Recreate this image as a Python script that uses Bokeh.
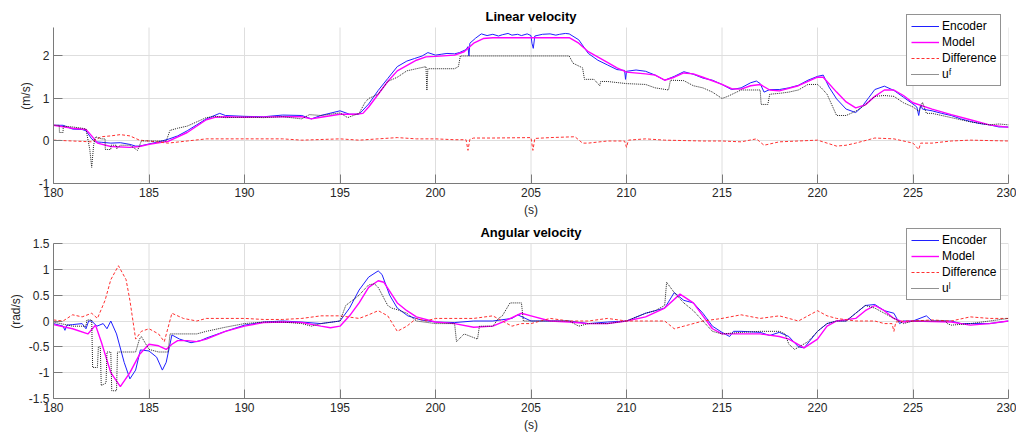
from bokeh.plotting import figure
from bokeh.layouts import column
from bokeh.models import Range1d, FixedTicker, CustomJSTickFormatter, Legend, LegendItem, Label
from bokeh.embed import file_html
from bokeh.resources import INLINE

# ---------------- Linear velocity data ----------------
lin_enc_t = [180, 180.5, 181, 181.5, 181.7, 182.0, 182.2, 182.5, 183, 183.5, 184, 184.3, 184.5, 185,
             185.5, 186, 186.5, 187, 187.5, 188, 188.7, 189, 190, 191, 192, 193, 193.5, 194, 195,
             195.5, 196, 196.5, 197, 197.5, 198, 198.5, 198.9, 199.3, 199.6, 200, 200.3, 200.6, 201,
             201.25, 201.6, 201.7, 201.75, 201.8, 202.1, 202.4, 202.7, 203, 203.3, 203.5, 203.8, 204,
             204.3, 204.5, 204.8, 205, 205.05, 205.12, 205.2, 205.6, 206, 206.3, 206.5, 206.8, 207,
             207.5, 208, 208.5, 209, 209.5, 209.9, 209.95, 210.0, 210.5, 211, 211.5, 212, 212.5, 213,
             213.5, 214, 214.5, 215, 215.5, 216, 216.5, 216.8, 217.0, 217.2, 217.5, 218, 218.5, 219,
             219.5, 220, 220.3, 220.6, 221, 221.5, 222, 222.3, 222.7, 223, 223.5, 224, 224.5, 225,
             225.2, 225.3, 225.4, 225.5, 226, 226.5, 227, 227.5, 228, 228.5, 229, 229.5, 230]
lin_enc_v = [0.37, 0.37, 0.28, 0.27, 0.24, 0.05, -0.02, -0.03, -0.05, -0.04, -0.08, -0.12, -0.12, -0.07,
             -0.02, 0.04, 0.12, 0.24, 0.38, 0.52, 0.65, 0.6, 0.58, 0.57, 0.61, 0.6, 0.52, 0.6, 0.71,
             0.63, 0.63, 0.87, 1.19, 1.47, 1.75, 1.88, 1.94, 2.0, 2.08, 2.02, 2.04, 2.06, 2.05,
             2.08, 2.15, 2.22, 2.0, 2.3, 2.42, 2.52, 2.48, 2.51, 2.47, 2.5, 2.53, 2.49,
             2.51, 2.48, 2.52, 2.48, 2.3, 2.18, 2.47, 2.51, 2.52, 2.49, 2.51, 2.53, 2.52,
             2.38, 2.06, 1.9, 1.79, 1.68, 1.66, 1.45, 1.64, 1.67, 1.64, 1.55, 1.43, 1.52, 1.63,
             1.57, 1.48, 1.43, 1.33, 1.21, 1.25, 1.37, 1.41, 1.35, 1.15, 1.21, 1.21, 1.25, 1.31,
             1.43, 1.52, 1.55, 1.27, 0.99, 0.75, 0.67, 0.79, 1.03, 1.21, 1.29, 1.19, 1.03, 0.87,
             0.8, 0.6, 0.85, 0.75, 0.71, 0.65, 0.6, 0.52, 0.46, 0.41, 0.38, 0.33, 0.33]

lin_mod_t = [180, 181, 181.7, 182, 182.3, 183, 184, 184.5, 185, 185.5, 186, 187, 188, 188.5, 189, 190,
             192, 193, 193.5, 194, 195, 195.8, 196.2, 196.5, 197, 197.5, 198, 199, 199.5, 200, 201,
             201.5, 202, 202.5, 203, 207, 207.5, 208, 209, 209.5, 210, 211, 211.5, 212, 212.5, 213,
             213.5, 214, 215, 215.5, 216, 216.5, 217, 217.5, 218, 219, 220, 220.3, 221, 221.5, 222,
             222.5, 223, 223.5, 224, 224.5, 225, 226, 227, 228, 229, 230]
lin_mod_v = [0.37, 0.3, 0.27, 0.12, -0.05, -0.13, -0.15, -0.13, -0.08, -0.04, -0.01, 0.2, 0.5, 0.56, 0.57, 0.56,
             0.57, 0.57, 0.52, 0.56, 0.63, 0.63, 0.65, 0.8, 1.1, 1.4, 1.65, 1.9, 1.98, 1.99, 2.02,
             2.1, 2.3, 2.41, 2.43, 2.43, 2.3, 2.1, 1.85, 1.72, 1.62, 1.58, 1.55, 1.43, 1.5, 1.6,
             1.58, 1.5, 1.33, 1.23, 1.22, 1.3, 1.33, 1.2, 1.18, 1.3, 1.5, 1.5, 1.15, 0.92, 0.78,
             0.85, 1.05, 1.2, 1.2, 1.07, 0.9, 0.75, 0.62, 0.5, 0.38, 0.32]

lin_dif_t = [180, 181, 182, 182.5, 183, 183.5, 184, 184.5, 185, 186, 187, 188, 190, 192, 193, 195, 196,
             197, 198, 199, 200, 201, 201.6, 201.7, 201.8, 202, 203, 205.0, 205.1, 205.2, 206, 207.3,
             207.7, 208, 209, 209.9, 210.0, 210.1, 211, 212, 214, 215, 216, 216.8, 217.2, 218, 219,
             220, 221, 221.5, 222, 223, 224, 225, 225.3, 225.4, 226, 227, 228, 230]
lin_dif_v = [0.02, 0.0, -0.02, 0.1, 0.12, 0.15, 0.12, 0.02, 0.0, -0.05, 0.0, 0.05, 0.05, 0.05, 0.02, 0.05, 0.02,
             0.05, 0.08, 0.05, 0.05, 0.03, 0.03, -0.22, 0.04, 0.07, 0.07, 0.08, -0.22, 0.06, 0.08, 0.1,
             -0.05, -0.05, 0.0, 0.0, -0.15, 0.02, 0.05, 0.02, 0.0, 0.0, -0.02, 0.05, -0.1, -0.02, 0.0,
             0.02, -0.12, -0.1, -0.05, 0.07, 0.05, -0.05, -0.2, -0.05, -0.05, 0.0, 0.02, 0.0]

lin_uf_t = [180, 180.3, 180.31, 180.5, 180.51, 181, 181.5, 181.7, 181.9, 182.0, 182.1, 182.2, 182.5, 182.7,
            182.71, 183, 183.01, 183.3, 183.31, 183.5, 184, 184.4, 184.6, 185, 185.9, 186.1, 186.5, 187,
            187.5, 188, 188.5, 189, 190, 191, 192, 193, 193.4, 194, 195, 195.4, 196, 196.3, 196.5, 197,
            197.5, 198, 198.5, 199, 199.5, 199.55, 199.6, 199.7, 200, 201, 201.2, 201.3, 207.0, 207.2,
            207.7, 207.8, 208.3, 208.6, 208.65, 209, 210, 211, 211.5, 212.2, 212.3, 213, 213.5, 214, 214.5,
            215, 215.3, 216, 216.5, 217.0, 217.05, 217.4, 217.5, 218, 218.5, 219, 219.5, 220, 220.2,
            220.5, 220.8, 221, 221.5, 222, 222.5, 223, 223.5, 224, 224.5, 225, 225.3, 225.5, 225.7, 226,
            227, 228, 229, 229.5, 230]
lin_uf_v = [0.37, 0.37, 0.2, 0.2, 0.35, 0.33, 0.3, 0.28, -0.2, -0.62, -0.1, 0.1, 0.05, 0.05,
            -0.2, -0.2, -0.1, -0.1, -0.18, -0.1, -0.1, -0.22, 0.0, 0.0, 0.0, 0.25, 0.3, 0.35,
            0.45, 0.55, 0.58, 0.55, 0.56, 0.55, 0.57, 0.52, 0.62, 0.6, 0.66, 0.55, 0.65, 0.9, 1.0, 1.1,
            1.4, 1.5, 1.65, 1.7, 1.75, 1.19, 1.7, 1.7, 1.7, 1.7, 1.75, 2.0, 2.0, 1.83,
            1.72, 1.45, 1.45, 1.3, 1.4, 1.4, 1.35, 1.33, 1.25, 1.2, 1.43, 1.42, 1.3, 1.25, 1.15,
            1.0, 1.05, 1.2, 1.2, 1.2, 0.86, 0.86, 1.1, 1.12, 1.15, 1.2, 1.33, 1.33, 1.25,
            1.1, 0.8, 0.6, 0.6, 0.7, 0.85, 1.05, 1.07, 1.05, 0.9, 0.8, 0.7, 0.91, 0.65, 0.65,
            0.55, 0.45, 0.38, 0.4, 0.38]

# ---------------- Angular velocity data ----------------
ang_enc_t = [180, 180.5, 180.6, 180.7, 181, 181.5, 181.7, 181.84, 182.0, 182.27, 182.6, 182.8, 183.0,
             183.3, 183.7, 184.0, 184.3, 184.55, 185, 185.4, 185.7, 185.9, 186.2, 186.6, 187.2, 187.7,
             188, 189, 190, 191, 192, 193, 194, 195, 195.5, 196, 196.5, 197, 197.2, 197.6, 198, 198.55,
             199.25, 200, 201, 202, 203, 204, 204.3, 205, 206, 207, 208, 209, 210, 211, 211.5, 212,
             212.5, 213, 213.5, 214, 214.5, 215, 215.4, 215.6, 216, 217, 217.5, 218, 218.5, 219, 219.3,
             220, 220.5, 221, 221.5, 222, 222.5, 223, 223.5, 224, 224.3, 224.5, 225, 225.7, 226, 227,
             227.5, 228, 229, 230]
ang_enc_v = [-0.05, -0.1, -0.18, -0.08, -0.07, -0.05, -0.15, 0.0, 0.0, -0.1, -0.05, -0.15, 0.0,
             -0.25, -0.8, -1.12, -0.95, -0.56, -0.58, -0.7, -0.95, -0.8, -0.27, -0.35, -0.42, -0.38,
             -0.33, -0.2, -0.08, -0.02, 0.0, -0.02, -0.05, 0.0, 0.25, 0.6, 0.85, 0.97, 0.9, 0.5, 0.25, 0.1,
             0.02, -0.02, -0.03, 0.0, 0.0, 0.05, 0.12, 0.0, 0.0, 0.0, -0.05, -0.02, 0.0, 0.15, 0.2, 0.25,
             0.55, 0.4, 0.35, 0.15, -0.1, -0.22, -0.3, -0.2, -0.2, -0.22, -0.28, -0.22, -0.3, -0.5, -0.52,
             -0.2, -0.05, 0.0, 0.0, 0.15, 0.3, 0.32, 0.2, 0.15, -0.05, 0.0, 0.0, 0.1, 0.0, 0.0,
             -0.05, -0.05, -0.05, 0.0]

ang_mod_t = [180, 181, 181.8, 182.2, 182.5, 183, 183.5, 184, 184.5, 185, 185.5, 185.9, 186.2, 186.5, 187,
             187.5, 188, 189, 190, 191, 192, 193, 194, 194.5, 195, 195.5, 196, 196.5, 197, 197.3, 198,
             198.5, 199, 200, 201, 202, 203, 203.5, 204.5, 205, 206, 207, 208, 209, 210, 211, 212, 212.8,
             213.5, 214, 214.5, 215, 216, 217, 218, 218.5, 219.3, 220, 220.5, 221, 222, 222.5, 223,
             223.5, 224, 224.5, 225, 227, 228, 229, 230]
ang_mod_v = [-0.07, -0.15, -0.25, -0.08, -0.4, -1.0, -1.27, -1.0, -0.65, -0.45, -0.48, -0.55, -0.45, -0.38, -0.38,
             -0.4, -0.35, -0.2, -0.1, -0.03, -0.02, -0.03, -0.1, -0.13, -0.1, 0.1, 0.35, 0.65, 0.78, 0.75, 0.35,
             0.2, 0.08, -0.02, -0.05, -0.12, -0.1, -0.02, 0.15, 0.1, 0.0, -0.02, -0.05, -0.05, 0.0, 0.08, 0.25, 0.52,
             0.35, 0.1, -0.15, -0.25, -0.25, -0.25, -0.3, -0.35, -0.52, -0.35, -0.1, 0.0, 0.05, 0.2, 0.3,
             0.2, 0.05, -0.02, 0.0, -0.02, -0.08, -0.05, 0.0]

ang_dif_t = [180, 180.5, 181, 181.5, 182, 182.3, 182.7, 183, 183.4, 183.8, 184, 184.3, 184.6, 185, 185.5,
             185.8, 186.2, 186.8, 187.5, 188, 189, 190, 191, 192, 193, 194, 195, 196, 196.5, 197, 197.5,
             198, 198.5, 199, 199.5, 200, 201, 202, 203, 204, 204.5, 205, 206, 207, 208, 209, 210, 211,
             212, 212.5, 213, 214, 215, 216, 217, 218, 219, 220, 220.5, 221, 222, 223, 223.5, 223.9,
             224.0, 224.1, 224.5, 225, 226, 227, 228, 229, 230]
ang_dif_v = [0.02, 0.0, 0.12, 0.08, 0.15, 0.05, 0.4, 0.8, 1.07, 0.8, 0.4, -0.35, -0.2, -0.15, -0.25,
             -0.4, 0.15, 0.05, 0.0, 0.05, 0.05, 0.05, 0.03, 0.03, 0.05, 0.1, 0.1, 0.05, 0.12, 0.2, 0.1,
             -0.2, -0.1, 0.05, 0.0, 0.05, 0.05, 0.05, 0.1, -0.1, -0.05, -0.05, 0.05, 0.0, 0.0, 0.05, 0.0, 0.0,
             0.0, -0.15, -0.1, 0.0, 0.05, 0.12, 0.05, 0.1, 0.0, 0.2, 0.1, 0.05, 0.0, 0.0, -0.05, -0.05,
             -0.2, -0.02, 0.0, 0.0, 0.02, 0.0, 0.08, 0.05, 0.05]

ang_ul_t = [180, 181, 181.7, 181.75, 182.0, 182.05, 182.3, 182.35, 182.45, 182.5, 182.75, 182.8, 183.0,
            183.05, 183.3, 183.35, 183.8, 184.3, 184.5, 184.6, 185, 185.5, 186, 186.1, 187, 187.5, 188,
            189, 190, 191, 192, 193, 193.5, 194, 195, 195.3, 196, 196.5, 196.8, 197, 197.5, 197.7, 198,
            198.5, 199, 200, 201, 201.1, 201.5, 202.2, 202.3, 203, 203.3, 203.5, 203.9, 204.5, 204.6,
            205, 206, 207, 207.5, 208, 209, 210, 211, 211.5, 212, 212.1, 212.5, 213, 213.5, 214, 214.5,
            215, 216, 217, 218, 218.3, 218.5, 218.8, 219.5, 220, 220.5, 221, 221.5, 222, 222.5, 223,
            223.5, 224, 224.5, 225, 226, 226.7, 226.8, 227, 228, 229, 230]
ang_ul_v = [-0.02, -0.1, -0.1, 0.02, 0.02, -0.9, -0.9, -0.5, -0.5, -1.25, -1.2, -0.6, -0.6,
            -1.35, -1.35, -0.6, -0.6, -0.6, -0.35, -0.3, -0.55, -0.6, -0.6, -0.25, -0.25, -0.25, -0.2,
            -0.12, -0.05, -0.02, -0.02, -0.05, -0.1, -0.05, 0.0, 0.3, 0.5, 0.7, 0.72, 0.65, 0.3, 0.25, 0.22,
            0.15, 0.0, -0.05, -0.05, -0.4, -0.25, -0.35, -0.1, -0.1, 0.05, 0.1, 0.35, 0.35, 0.0,
            0.0, 0.0, 0.0, -0.1, -0.05, -0.05, 0.0, 0.15, 0.2, 0.3, 0.75, 0.55, 0.35, 0.2, 0.0, -0.2,
            -0.25, -0.22, -0.2, -0.2, -0.25, -0.45, -0.55, -0.4, -0.2, -0.05, 0.0, 0.0, 0.15, 0.3, 0.25,
            0.15, 0.05, -0.05, 0.0, 0.0, 0.0, -0.05, -0.08, -0.05, 0.0, 0.05]

x_ticks = [180, 185, 190, 195, 200, 205, 210, 215, 220, 225, 230]
lin_y_ticks = [-1, 0, 1, 2]
ang_y_ticks = [-1.5, -1, -0.5, 0, 0.5, 1, 1.5]
lin_y_lim = (-1, 2.67)
ang_y_lim = (-1.5, 1.5)
legend_labels_lin = ["Encoder", "Model", "Difference", "u\u1da0"]
legend_labels_ang = ["Encoder", "Model", "Difference", "u\u02e1"]

FONT = "Liberation Sans"
AX = "#7a7a7a"
TXT = "#262626"
GRID = "#dedede"


def style(p, yticks, ylim, ylabel, title, title_y):
    p.xaxis.ticker = FixedTicker(ticks=x_ticks)
    p.yaxis.ticker = FixedTicker(ticks=yticks)
    p.yaxis.bounds = ylim
    p.yaxis.formatter = CustomJSTickFormatter(code="return tick.toString();")
    p.xaxis.axis_label = "(s)"
    p.yaxis.axis_label = ylabel
    for ax in (p.xaxis, p.yaxis):
        ax.axis_line_color = AX
        ax.major_tick_line_color = AX
        ax.minor_tick_line_color = None
        ax.major_tick_in = 9
        ax.major_tick_out = 0
        ax.major_label_text_font = FONT
        ax.major_label_text_font_size = "12px"
        ax.major_label_text_color = TXT
        ax.axis_label_text_font = FONT
        ax.axis_label_text_font_size = "12px"
        ax.axis_label_text_font_style = "normal"
        ax.axis_label_text_color = TXT
        ax.axis_label_standoff = 3
        ax.major_label_standoff = 4
    # vertical grid limited to the axes box
    p.xgrid.visible = False
    p.segment(x0=x_ticks, y0=[ylim[0]] * len(x_ticks), x1=x_ticks, y1=[ylim[1]] * len(x_ticks),
              line_color=GRID, line_width=1, level="underlay")
    p.ygrid.ticker = FixedTicker(ticks=yticks)
    p.ygrid.grid_line_color = GRID
    p.ygrid.grid_line_width = 1
    p.outline_line_color = None
    p.add_layout(Label(x=205, y=title_y, text=title, text_align="center", text_baseline="middle",
                       text_font=FONT, text_font_size="13px", text_font_style="bold",
                       text_color="#000000"))


def add_series(p, enc_t, enc_v, mod_t, mod_v, dif_t, dif_v, u_t, u_v, labels, loc):
    r_enc = p.line(enc_t, enc_v, line_color="#1f1fff", line_width=1)
    r_mod = p.line(mod_t, mod_v, line_color="#ff00ff", line_width=1.4)
    r_dif = p.line(dif_t, dif_v, line_color="#ff3030", line_width=1, line_dash="3 2")
    r_u = p.line(u_t, u_v, line_color="#222222", line_width=1, line_dash="1 1")
    items = [LegendItem(label=labels[0], renderers=[r_enc]),
             LegendItem(label=labels[1], renderers=[r_mod]),
             LegendItem(label=labels[2], renderers=[r_dif]),
             LegendItem(label=labels[3], renderers=[r_u])]
    lg = Legend(items=items, location=loc)
    lg.border_line_color = "#262626"
    lg.border_line_width = 1
    lg.background_fill_color = "white"
    lg.background_fill_alpha = 1
    lg.label_text_font = FONT
    lg.label_text_font_size = "12px"
    lg.label_text_color = "#000000"
    lg.glyph_width = 28
    lg.glyph_height = 14
    lg.label_height = 14
    lg.label_standoff = 3
    lg.spacing = 2
    lg.padding = 4
    lg.margin = 0
    p.add_layout(lg, "center")


# top axes box: 27..183 px, frame extended up to 8 px so the legend can overhang
p1 = figure(width=1016, height=219, output_backend="svg", toolbar_location=None,
            x_range=Range1d(180, 230), y_range=Range1d(-1, 3.117),
            min_border_left=53, min_border_right=8, min_border_top=8, min_border_bottom=36)
style(p1, lin_y_ticks, lin_y_lim, "(m/s)", "Linear velocity", 2.93)
add_series(p1, lin_enc_t, lin_enc_v, lin_mod_t, lin_mod_v, lin_dif_t, lin_dif_v, lin_uf_t, lin_uf_v,
           legend_labels_lin, (853, 97))

# bottom axes box: 243..398 px, frame extended up to 224 px
p2 = figure(width=1016, height=215, output_backend="svg", toolbar_location=None,
            x_range=Range1d(180, 230), y_range=Range1d(-1.5, 1.868),
            min_border_left=53, min_border_right=8, min_border_top=5, min_border_bottom=36)
style(p2, ang_y_ticks, ang_y_lim, "(rad/s)", "Angular velocity", 1.713)
add_series(p2, ang_enc_t, ang_enc_v, ang_mod_t, ang_mod_v, ang_dif_t, ang_dif_v, ang_ul_t, ang_ul_v,
           legend_labels_ang, (853, 98))

layout = column(p1, p2)
open("out.html", "w").write(file_html(layout, INLINE))
